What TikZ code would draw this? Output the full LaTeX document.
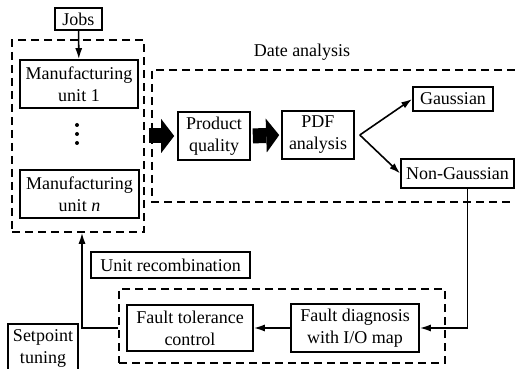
\documentclass[tikz,border=0pt]{standalone}
\usepackage{fontspec}
\setmainfont{Liberation Serif}
\usetikzlibrary{arrows.meta}
\begin{document}
\begin{tikzpicture}[x=1pt,y=-1pt,
  font=\fontsize{18}{22}\selectfont,
  box/.style={draw,line width=1.6pt,align=center,inner sep=0pt},
  group/.style={draw,line width=1.5pt,dash pattern=on 8pt off 5pt},
  arr/.style={line width=1.6pt,-{Latex[length=11pt,width=7pt]}},
  bigarrow/.style={line width=15pt,-{Triangle[length=13pt,width=34pt,line width=0pt]}}]
\useasboundingbox (0,0) rectangle (515,369);
% 製造ユニット
\node[box,minimum width=47pt,minimum height=22pt] (jobs) at (78.5,19) {Jobs};
\node[group,minimum width=132pt,minimum height=192pt] (units) at (78,136) {};
\node[box,minimum width=118pt,minimum height=48pt] (unit1) at (79,84) {Manufacturing\\unit 1};
\foreach \y in {125,134,143}
  \fill (77,\y) circle (2pt);
\node[box,minimum width=119pt,minimum height=48pt] (unitn) at (79.5,194) {Manufacturing\\unit \textit{n}};
\draw[arr] (jobs) -- (unit1);
% データ解析
\draw[group] (515,70) -| (152,202) -- (515,202);
\node (datalabel) at (302,52) {Date analysis};
\node[box,minimum width=72pt,minimum height=48pt] (quality) at (214,136) {Product\\quality};
\node[box,minimum width=72pt,minimum height=48pt] (pdf) at (318,135) {PDF\\analysis};
\node[box,minimum width=80pt,minimum height=24pt] (gauss) at (453,99) {Gaussian};
\node[box,minimum width=113pt,minimum height=29pt] (nongauss) at (457.5,173.5) {Non-Gaussian};
\draw[bigarrow,shorten <=4pt,shorten >=3pt] (units.east) -- (quality.west);
\draw[bigarrow,shorten <=2pt,shorten >=2pt] (quality.east) -- (pdf.west);
\coordinate (fork) at ([xshift=5pt]pdf.east);
\draw[arr] (fork) -- (gauss.west);
\draw[arr] (fork) -- (nongauss.west);
% 故障診断と耐故障制御
\node[group,minimum width=326pt,minimum height=74pt] (ftc) at (282,326) {};
\node[box,minimum width=128pt,minimum height=48pt] (diag) at (355,328) {Fault diagnosis\\with I/O map};
\node[box,minimum width=126pt,minimum height=46pt] (tolerance) at (190,328) {Fault tolerance\\control};
\draw[arr] ([xshift=10pt]nongauss.south) |- (diag.east);
\draw[arr] (diag) -- (tolerance);
\draw[arr] (ftc.west |- tolerance) -| ([xshift=4pt]units.south);
% ラベル
\node[box,minimum width=159pt,minimum height=26pt] (recomb) at (170.5,265) {Unit recombination};
\node[box,minimum width=70pt,minimum height=48pt] (setpoint) at (43,348) {Setpoint\\tuning};
\end{tikzpicture}
\end{document}
